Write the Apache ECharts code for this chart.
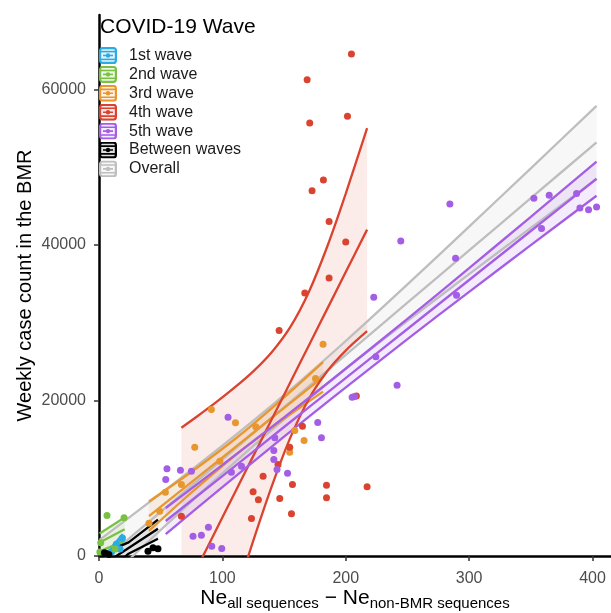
<!DOCTYPE html>
<html>
<head>
<meta charset="utf-8">
<script src="https://cdn.jsdelivr.net/npm/echarts@6/dist/echarts.min.js"></script>
<style>
html, body { margin: 0; padding: 0; background: #ffffff; }
#chart { width: 611px; height: 613px; }
</style>
</head>
<body>
<div id="chart"></div>
<script>
// Legend entries and colours
const waveNames = ['1st wave', '2nd wave', '3rd wave', '4th wave', '5th wave', 'Between waves', 'Overall'];
const waveColors = ['#2AABE4', '#7AC143', '#E8962E', '#D9432F', '#A45EE5', '#000000', '#BEBEBE'];

// Axis ticks
const xTicks = [0, 100, 200, 300, 400];
const yTicks = [0, 20000, 40000, 60000];

// Weekly points: [Ne difference, weekly case count]
const wave1Points = [[10.2, 550], [14, 1500], [17, 900], [19, 2300]];
const wave2Points = [[0.7, 500], [1.4, 1700], [6.5, 5210], [13, 900], [20.3, 4910]];
const wave3Points = [[40.5, 4200], [49.2, 5760], [53.8, 8200], [66.8, 9190], [77.6, 13990], [91.1, 18840],
  [97.9, 12190], [110.6, 17130], [127.1, 16620], [154.6, 13350], [158.7, 16140], [166.2, 14850],
  [175.5, 22830], [181.6, 27240]];
const wave4Points = [[204.6, 64580], [168.7, 61280], [170.8, 55710], [201.4, 56560], [181.9, 48380],
  [172.7, 47000], [186.5, 43020], [200, 40400], [186.5, 35780], [166.8, 33850], [146, 29000],
  [208.6, 20600], [164.9, 16690], [154.6, 13990], [156.8, 9190], [184.4, 9100], [184.4, 7480],
  [217.3, 8900], [156, 5430], [146.5, 7390], [145.1, 11770], [133, 10260], [124.9, 8260],
  [129.2, 7230], [123.6, 4820], [66.8, 5120]];
const wave5Points = [[284.4, 45290], [244.6, 40530], [289, 38300], [222.7, 33280], [289.8, 33540],
  [352.5, 46010], [364.9, 46400], [358.7, 42120], [387.1, 46620], [389.8, 44780], [396.8, 44560],
  [403.3, 44910], [224.4, 25620], [241.6, 21970], [205.2, 20430], [207.2, 20520], [177.3, 17170],
  [180.3, 15200], [152.8, 10650], [104.6, 17850], [142.5, 15200], [141.7, 13570], [141.7, 12410],
  [144.3, 11120], [107.3, 10780], [115.5, 11550], [55.1, 11210], [66, 11030], [74.9, 10900],
  [54.1, 9840], [76.2, 2550], [83, 2680], [88.7, 3700], [91.4, 1260], [99.5, 960]];
const betweenPoints = [[4.4, 410], [8, 200], [39.7, 620], [43.8, 1050], [47.8, 920]];

// Linear fits with 95% confidence limits: x, fitted value, lower, upper
const fit1 = { x: [9.2, 19.2], mid: [600, 2300], lo: [250, 1800], hi: [950, 2800] };
const fit2 = { x: [0.5, 20.8], mid: [1750, 3450], lo: [600, 1950], hi: [2900, 4950] };
const fit3 = {
  x:   [40.5, 75, 111, 145, 181.6],
  mid: [5120, 9505, 14081, 18402, 23050],
  lo:  [3224, 8169, 13011, 17092, 21152],
  hi:  [7016, 10841, 15151, 19712, 24948]
};
const fit4 = {
  x:   [66.8, 80, 95, 110, 125, 140, 155, 170, 185, 200, 217.3],
  mid: [-5525, -1358, 3378, 8113, 12849, 17585, 22320, 27056, 31791, 36527, 41988],
  lo:  [-27555, -20728, -13032, -5457, 1939, 8945, 15194, 20174, 23764, 26427, 28920],
  hi:  [16505, 18012, 19788, 21683, 23759, 26225, 29446, 33938, 39818, 46627, 55056]
};
const fit5 = {
  x:   [54.1, 100, 150, 190, 250, 300, 350, 403.3],
  mid: [4500, 10288, 16593, 21637, 29203, 35508, 41813, 48534],
  lo:  [2826, 8862, 15347, 20439, 27899, 33981, 39989, 46344],
  hi:  [6174, 11714, 17839, 22835, 30507, 37035, 43637, 50724]
};
const fitBetween = { x: [0.5, 24, 47.8], mid: [-1413, 1029, 3500], lo: [-2970, 300, 2210], hi: [150, 1750, 4690] };
const fitOverall = {
  x:   [0.5, 50, 100, 150, 200, 250, 300, 350, 403.3],
  mid: [-968, 5690, 12415, 19140, 25865, 32590, 39315, 46040, 53209],
  lo:  [-4017, 3342, 10622, 17575, 24072, 30242, 36259, 42206, 48508],
  hi:  [2081, 8038, 14208, 20705, 27658, 34938, 42371, 49874, 57910]
};

const FONT = "'Liberation Sans', Arial, Helvetica, sans-serif";

// legend key: ribbon box with the three smooth lines and a point
function keyIcon(color) {
  const svg = "<svg xmlns='http://www.w3.org/2000/svg' width='18' height='17' viewBox='0 0 18 17'>" +
    "<rect x='1.1' y='1.1' width='15.8' height='14.8' rx='2.5' fill='" + color + "' fill-opacity='0.12' stroke='" + color + "' stroke-width='2.2'/>" +
    "<line x1='1' y1='4.6' x2='17' y2='4.6' stroke='" + color + "' stroke-width='1.6'/>" +
    "<line x1='1' y1='12.4' x2='17' y2='12.4' stroke='" + color + "' stroke-width='1.6'/>" +
    "<line x1='4' y1='8.5' x2='14' y2='8.5' stroke='" + color + "' stroke-width='1.6'/>" +
    "<circle cx='9' cy='8.5' r='2.2' fill='" + color + "'/></svg>";
  return 'image://data:image/svg+xml;charset=utf-8,' + encodeURIComponent(svg);
}

function bandSeries(name, band, color, opacity) {
  return {
    type: 'custom', name: name, z: 1, silent: true, animation: false,
    data: [[band.x[0], band.mid[0]]],
    renderItem: function (params, api) {
      const pts = [];
      for (let i = 0; i < band.x.length; i++) pts.push(api.coord([band.x[i], band.hi[i]]));
      for (let i = band.x.length - 1; i >= 0; i--) pts.push(api.coord([band.x[i], band.lo[i]]));
      const cs = params.coordSys;
      return {
        type: 'group',
        clipPath: { type: 'rect', shape: { x: cs.x, y: cs.y, width: cs.width, height: cs.height } },
        children: [{ type: 'polygon', shape: { points: pts }, style: { fill: color, opacity: opacity } }]
      };
    }
  };
}

function lineSeries(name, xs, ys, color, width) {
  return {
    type: 'line', name: name, z: 2, silent: true, animation: false, clip: true,
    data: xs.map(function (x, i) { return [x, ys[i]]; }),
    showSymbol: false, symbol: 'none', smooth: xs.length > 3 ? 0.3 : false,
    lineStyle: { color: color, width: width || 2.3 },
    itemStyle: { color: color }
  };
}

function fitSeries(name, band, color, opacity) {
  return [
    bandSeries(name, band, color, opacity),
    lineSeries(name, band.x, band.hi, color),
    lineSeries(name, band.x, band.mid, color),
    lineSeries(name, band.x, band.lo, color)
  ];
}

function pointSeries(name, pts, color) {
  return {
    type: 'scatter', name: name, z: 3, silent: true, animation: false,
    data: pts, symbolSize: 7, itemStyle: { color: color, opacity: 1 }
  };
}

const fits = [fit1, fit2, fit3, fit4, fit5, fitBetween];
const points = [wave1Points, wave2Points, wave3Points, wave4Points, wave5Points, betweenPoints];
const bandOpacity = [0.12, 0.12, 0.12, 0.1, 0.12, 0.08];

let series = [];
// overall fit underneath the per-wave fits
series = series.concat(fitSeries(waveNames[6], fitOverall, waveColors[6], 0.12));
fits.forEach(function (f, i) { series = series.concat(fitSeries(waveNames[i], f, waveColors[i], bandOpacity[i])); });
points.forEach(function (p, i) { series.push(pointSeries(waveNames[i], p, waveColors[i])); });

const chart = echarts.init(document.getElementById('chart'), null, { renderer: 'canvas' });
chart.setOption({
  animation: false,
  backgroundColor: '#ffffff',
  textStyle: { fontFamily: FONT },
  title: {
    text: 'COVID-19 Wave', left: 100, top: 17, padding: 0,
    textStyle: { fontFamily: FONT, fontSize: 21, fontWeight: 'normal', color: '#000000' }
  },
  legend: {
    orient: 'vertical', left: 99, top: 47, padding: 0, itemWidth: 18, itemHeight: 17, itemGap: 1.9,
    selectedMode: false,
    textStyle: { fontFamily: FONT, fontSize: 16, color: '#1a1a1a', padding: [0, 0, 0, 7] },
    data: waveNames.map(function (n, i) { return { name: n, icon: keyIcon(waveColors[i]) }; })
  },
  grid: { left: 99, right: 0, top: 15, bottom: 57, containLabel: false, outerBoundsMode: 'none' },
  xAxis: {
    type: 'value', min: 0, max: 415, interval: 100,
    name: '{ne|Ne}{sub|all sequences}{ne| − Ne}{sub|non-BMR sequences}',
    nameLocation: 'middle', nameGap: 29.5, nameMoveOverlap: false,
    nameTextStyle: {
      rich: {
        ne: { fontFamily: FONT, fontSize: 21, color: '#000', verticalAlign: 'bottom', lineHeight: 26, padding: [0, 0, 3, 0] },
        sub: { fontFamily: FONT, fontSize: 15, color: '#000', verticalAlign: 'bottom', lineHeight: 26 }
      }
    },
    axisLine: { show: true, lineStyle: { color: '#000', width: 2.5 } },
    axisTick: { show: true, length: 5, customValues: xTicks, lineStyle: { color: '#333', width: 1.5 } },
    axisLabel: { customValues: xTicks, fontFamily: FONT, fontSize: 16, color: '#4d4d4d', margin: 15, formatter: function (v) { return String(v); } },
    splitLine: { show: false }
  },
  yAxis: {
    type: 'value', min: 0, max: 69600, interval: 20000,
    name: 'Weekly case count in the BMR', nameLocation: 'middle', nameGap: 64, nameMoveOverlap: false,
    nameTextStyle: { fontFamily: FONT, fontSize: 20, color: '#000' },
    axisLine: { show: true, lineStyle: { color: '#000', width: 2.5 } },
    axisTick: { show: true, length: 5, customValues: yTicks, lineStyle: { color: '#333', width: 1.5 } },
    axisLabel: { customValues: yTicks, fontFamily: FONT, fontSize: 16, color: '#4d4d4d', margin: 13, formatter: function (v) { return String(v); } },
    splitLine: { show: false }
  },
  series: series
});
</script>
</body>
</html>
